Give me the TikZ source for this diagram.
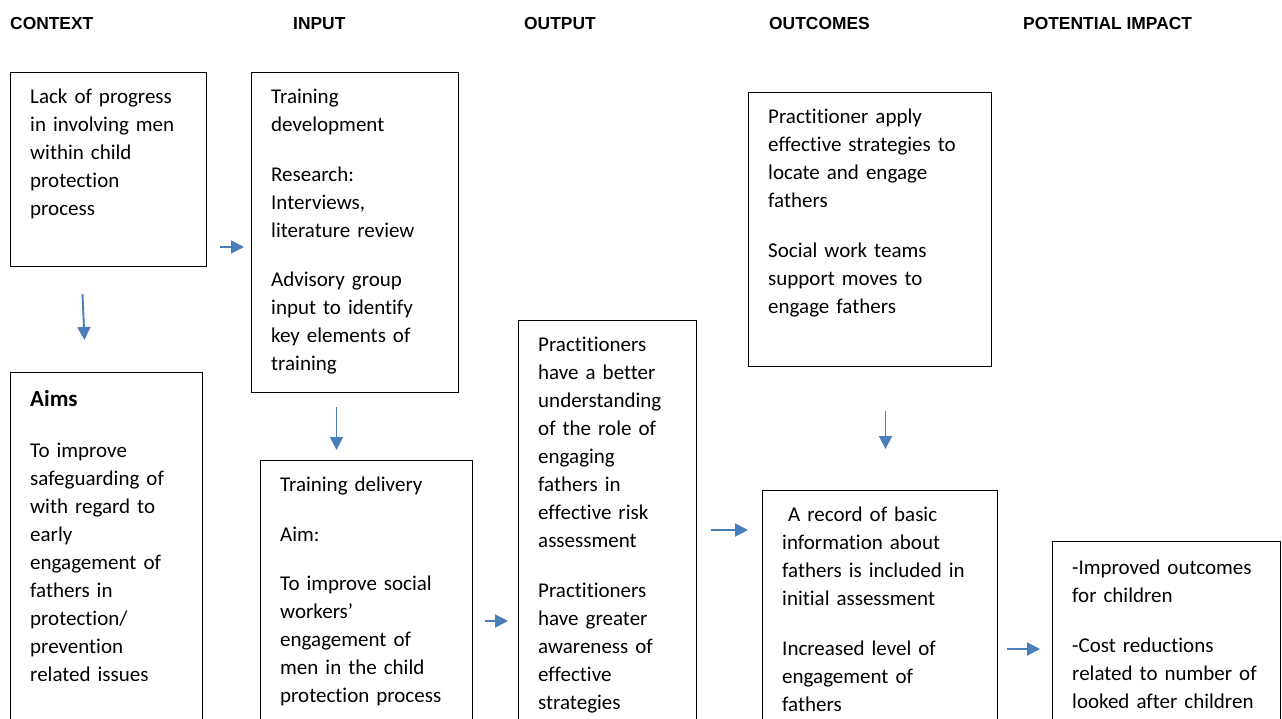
\documentclass[tikz,border=0pt]{standalone}
\usepackage{fontspec}
\setmainfont{Carlito}[Ligatures=NoCommon]
\newfontfamily\headfont{Liberation Sans}
\usetikzlibrary{arrows.meta}
\definecolor{arrowblue}{RGB}{74,126,187}
\begin{document}
\begin{tikzpicture}[x=1pt,y=-1pt,
	frame/.style={draw, line width=1pt, anchor=north west, inner sep=0pt},
	body/.style={anchor=north west, align=left, text width=200pt, inner xsep=20pt, inner ysep=11.8pt, font=\fontsize{21}{28}\selectfont},
	head/.style={anchor=west, inner sep=0pt, font=\headfont\bfseries\fontsize{17.4}{20}\selectfont},
	flow/.style={draw=arrowblue, line width=1.9pt, -{Triangle[length=13pt,width=13pt]}}]
	\clip (0,0) rectangle (1282,718);

	\node[head] (hctx) at (10,24) {CONTEXT};
	\node[head] (hin) at (293,24) {INPUT};
	\node[head] (hout) at (524,24) {OUTPUT};
	\node[head] (hoc) at (769,24) {OUTCOMES};
	\node[head] (himp) at (1023,24) {POTENTIAL IMPACT};

	\node[frame, minimum width=196, minimum height=194] (ctx) at (10,72) {};
	\node[frame, minimum width=192, minimum height=358] (aims) at (10,372) {};
	\node[frame, minimum width=207, minimum height=320] (in1) at (251,72) {};
	\node[frame, minimum width=212, minimum height=270] (in2) at (260,460) {};
	\node[frame, minimum width=178, minimum height=410] (outp) at (518,320) {};
	\node[frame, minimum width=243, minimum height=274] (oc1) at (748,92) {};
	\node[frame, minimum width=235, minimum height=240] (oc2) at (762,490) {};
	\node[frame, minimum width=228, minimum height=189] (imp) at (1052,541) {};

	\node[body] (ctx-t) at (ctx.north west) {\strut Lack of progress\\ in involving men\\ within child\\ protection\\ process};
	\node[body, inner ysep=15pt] (aims-t) at (aims.north west) {\strut{\fontsize{23}{28}\selectfont\bfseries Aims}\\[23pt] To improve\\ safeguarding of\\ with regard to\\ early\\ engagement of\\ fathers in\\ protection/\\ prevention\\ related issues};
	\node[body] (in1-t) at (in1.north west) {\strut Training\\ development\\[21.5pt] Research:\\ Interviews,\\ literature review\\[21.5pt] Advisory group\\ input to identify\\ key elements of\\ training};
	\node[body] (in2-t) at (in2.north west) {\strut Training delivery\\[21.5pt] Aim:\\[21.5pt] To improve social\\ workers’\\ engagement of\\ men in the child\\ protection process};
	\node[body] (outp-t) at (outp.north west) {\strut Practitioners\\ have a better\\ understanding\\ of the role of\\ engaging\\ fathers in\\ effective risk\\ assessment\\[21.5pt] Practitioners\\ have greater\\ awareness of\\ effective\\ strategies};
	\node[body] (oc1-t) at (oc1.north west) {\strut Practitioner apply\\ effective strategies to\\ locate and engage\\ fathers\\[21.5pt] Social work teams\\ support moves to\\ engage fathers};
	\node[body] (oc2-t) at (oc2.north west) {\strut\hspace*{6pt}A record of basic\\ information about\\ fathers is included in\\ initial assessment\\[21.5pt] Increased level of\\ engagement of\\ fathers};
	\node[body, inner ysep=13.8pt] (imp-t) at (imp.north west) {\strut -Improved outcomes\\ for children\\[21.5pt] -Cost reductions\\ related to number of\\ looked after children};

	\draw[flow] ([shift={(13,-20)}]ctx.south east) -- ([shift={(-7,-20)}]ctx.south east -| in1.west);
	\draw[flow] ([shift={(-26,27)}]ctx.south) -- ([shift={(-22,-32)}]aims.north);
	\draw[flow] ([shift={(-18.5,14)}]in1.south) -- ([shift={(-30,-10)}]in2.north);
	\draw[flow, shorten <=12pt, shorten >=10pt] (in2.east |- 0,621) -- (outp.west |- 0,621);
	\draw[flow, shorten <=14pt, shorten >=14pt] (outp.east |- 0,530) -- (oc2.west |- 0,530);
	\draw[flow] ([shift={(15.5,44)}]oc1.south) -- ([shift={(5.5,-41)}]oc2.north);
	\draw[flow, shorten <=9pt, shorten >=12pt] (oc2.east |- 0,649) -- (imp.west |- 0,649);
\end{tikzpicture}
\end{document}
